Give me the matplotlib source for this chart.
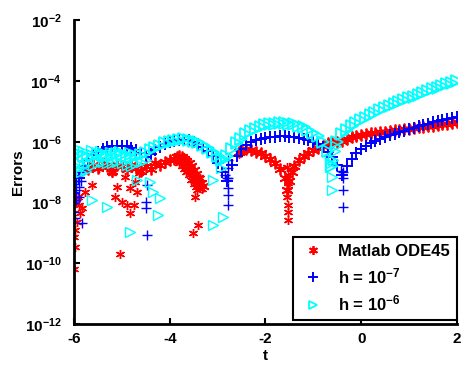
import matplotlib
matplotlib.use("Agg")
import matplotlib.pyplot as plt
import numpy as np

plt.rcParams['font.family'] = ['Liberation Sans', 'DejaVu Sans']
plt.rcParams['font.weight'] = 'bold'
plt.rcParams['mathtext.fontset'] = 'custom'
plt.rcParams['mathtext.rm'] = 'Liberation Sans:bold'
plt.rcParams['mathtext.bf'] = 'Liberation Sans:bold'
plt.rcParams['mathtext.it'] = 'Liberation Sans:bold'
plt.rcParams['mathtext.default'] = 'rm'

# common time grid for the smooth parts (t = -6 ... 2, step 0.1)
t_grid = np.round(np.linspace(-6, 2, 81), 2)

# log10 of error
cyan_main = [-6.45, -6.40, -6.45, -6.50, -6.45, -6.40, -6.42, -6.48, -6.45, -6.40,
             -6.42, -6.46, -6.50, -6.47, -6.42, -6.36, -6.28, -6.20, -6.12, -6.05,
             -6.00, -5.96, -5.93, -5.92, -5.93, -5.97, -6.02, -6.10, -6.20, -6.32,
             -6.48, -6.60, -6.45, -6.25, -6.05, -5.90, -5.75, -5.65, -5.57, -5.50,
             -5.45, -5.42, -5.40, -5.38, -5.38, -5.40, -5.42, -5.46, -5.52, -5.60,
             -5.70, -5.82, -6.00, -6.30, -6.80, -6.00, -5.75, -5.60, -5.48, -5.38,
             -5.28, -5.20, -5.12, -5.04, -4.96, -4.89, -4.82, -4.76, -4.69, -4.63,
             -4.57, -4.51, -4.45, -4.39, -4.33, -4.27, -4.21, -4.15, -4.10, -4.05,
             -4.00]
blue_main = [-7.70, -7.20, -6.80, -6.55, -6.42, -6.32, -6.24, -6.18, -6.14, -6.12,
             -6.12, -6.15, -6.20, -6.28, -6.38, -6.50, -6.40, -6.28, -6.18, -6.08,
             -6.02, -5.97, -5.94, -5.93, -5.95, -5.99, -6.06, -6.16, -6.30, -6.48,
             -6.70, -7.00, -7.30, -6.75, -6.45, -6.25, -6.10, -6.00, -5.95, -5.90,
             -5.87, -5.85, -5.83, -5.82, -5.82, -5.83, -5.85, -5.87, -5.90, -5.95,
             -6.00, -6.08, -6.18, -6.32, -6.50, -6.75, -7.10, -6.80, -6.55, -6.36,
             -6.22, -6.12, -6.03, -5.96, -5.90, -5.84, -5.78, -5.73, -5.68, -5.63,
             -5.58, -5.53, -5.49, -5.44, -5.40, -5.36, -5.32, -5.28, -5.24, -5.20,
             -5.17]

# cyan extra points (thick band at left, dips, stray markers)
cyan_x_t = [-6.0, -5.95, -5.9, -5.85, -5.8, -5.75, -5.7, -5.6, -5.5, -5.4, -5.3, -5.2,
            -5.1, -5.0, -4.9, -4.8, -4.7, -5.97, -5.92, -5.82, -5.65, -5.45, -5.25,
            -5.05, -4.85, -4.6, -4.5, -2.95, -2.85, -2.92, -0.65, -0.62, -0.58, -0.55,
            -0.52, -0.66, -0.61, -0.61, -5.62, -5.31, -4.83, -4.35, -4.2, -4.25,
            -4.41, -4.68, -2.89, -3.1, -3.1]
cyan_x_e = [-6.75, -6.90, -6.70, -7.00, -6.80, -6.95, -6.70, -6.75, -6.70, -6.65, -6.70,
            -6.70, -6.65, -6.70, -6.75, -6.80, -6.70, -6.30, -6.25, -6.30, -6.28, -6.30,
            -6.32, -6.30, -6.33, -6.65, -6.60, -6.55, -6.55, -6.85, -6.55, -6.70, -6.60,
            -6.30, -6.15, -6.82, -7.15, -7.58, -7.91, -8.13, -8.96, -7.64, -7.84, -8.40,
            -7.31, -7.25, -8.46, -8.73, -7.25]

blue_x_t = [-6.0, -6.0, -6.0, -6.0, -5.95, -5.95, -5.95, -5.9, -5.9, -5.9, -5.85, -5.85,
            -5.8, -5.97, -5.83, -4.48, -4.5, -4.5, -4.48, -2.85, -2.8, -2.78, -2.78,
            -2.78, -2.78, -2.78, -2.78, -0.42, -0.38, -0.37, -0.37, -0.37]
blue_x_e = [-7.40, -7.70, -8.00, -8.30, -7.30, -7.60, -7.90, -7.10, -7.50, -7.80, -7.00,
            -7.30, -6.90, -8.50, -8.66, -7.41, -7.97, -8.17, -9.06, -7.10, -7.20, -6.59,
            -6.86, -7.18, -7.51, -7.74, -8.07, -6.95, -7.00, -7.18, -7.58, -8.13]

red_t = [-5.7, -5.6, -5.5, -5.4, -5.3, -5.2, -5.1, -5.0, -4.9, -4.8, -4.7, -4.6, -4.5,
         -4.4, -4.3, -4.2, -4.1, -4.0,
         -3.9, -3.85, -3.8, -3.75, -3.7, -3.65, -3.6, -3.55, -3.5, -3.45, -3.4, -3.35,
         -3.3,
         -2.55, -2.5, -2.4, -2.3, -2.2, -2.1, -2.0, -1.9, -1.8, -1.7, -1.6, -1.55, -1.5,
         -1.45, -1.4, -1.3, -1.2, -1.1, -1.0, -0.9, -0.8, -0.7, -0.6, -0.5,
         -0.4, -0.3, -0.2, -0.1, 0.0, 0.1, 0.2, 0.3, 0.4, 0.5, 0.6, 0.7, 0.8, 0.9, 1.0,
         1.1, 1.2, 1.3, 1.4, 1.5, 1.6, 1.7, 1.8, 1.9, 2.0]
red_e = [-6.90, -6.75, -6.85, -6.70, -6.80, -6.95, -6.75, -6.80, -6.90, -6.75, -6.85,
         -6.95, -6.80, -6.90, -6.70, -6.75, -6.65, -6.60,
         -6.55, -6.50, -6.48, -6.50, -6.55, -6.62, -6.70, -6.80, -6.92, -7.05, -7.20,
         -7.35, -7.45,
         -6.32, -6.30, -6.25, -6.27, -6.32, -6.38, -6.46, -6.56, -6.70, -6.90, -7.20,
         -7.60, -7.30, -7.00, -6.80, -6.60, -6.47, -6.37, -6.28, -6.20, -6.12, -6.05,
         -6.02, -6.00,
         -5.97, -5.90, -5.85, -5.81, -5.78, -5.75, -5.72, -5.70, -5.68, -5.66, -5.64,
         -5.62, -5.60, -5.58, -5.56, -5.54, -5.52, -5.50, -5.48, -5.46, -5.44, -5.42,
         -5.40, -5.38, -5.36]

# red stray points (left scatter, cluster fill, dip column)
red_x_t = [-6.0, -5.98, -5.98, -5.94, -5.87, -5.83, -5.9, -5.77, -5.62, -6.0, -5.96,
           -5.92, -5.48, -5.35, -5.21, -5.1, -5.14, -5.0, -4.89, -4.83, -4.75, -5.04,
           -4.83, -4.73, -4.64, -4.94, -4.62, -4.68,
           -3.8, -3.75, -3.7, -3.65, -3.6, -3.55, -3.5, -3.45, -3.42, -3.7, -3.6, -3.55,
           -3.5, -3.4, -3.47, -3.41, -3.51, -3.82, -3.78, -3.72, -3.68, -3.62, -3.58,
           -3.52, -3.48, -3.38, -3.32, -3.36,
           -1.55, -1.53, -1.52, -1.53, -1.54, -1.52, -1.53, -1.52]
red_x_e = [-10.20, -9.45, -8.89, -8.63, -8.33, -8.17, -8.07, -7.64, -7.41, -9.15, -8.00,
           -7.80, -6.85, -6.75, -7.02, -7.48, -7.81, -7.97, -8.07, -8.33, -8.07, -9.68,
           -7.51, -7.31, -7.02, -7.15, -6.98, -7.64,
           -6.70, -6.80, -6.90, -7.00, -7.10, -7.25, -7.40, -7.50, -7.60, -6.75, -6.90,
           -7.00, -7.15, -7.40, -7.81, -8.73, -8.99, -6.60, -6.62, -6.68, -6.80, -6.85,
           -6.95, -7.10, -7.25, -7.30, -7.55, -7.20,
           -6.82, -7.08, -7.34, -7.58, -7.81, -8.07, -8.30, -8.56]

legend_labels = ['Matlab ODE45', r'h = 10$^{-7}$', r'h = 10$^{-6}$']
x_ticks = [-6, -4, -2, 0, 2]
y_exps = [-12, -10, -8, -6, -4, -2]

red = '#ff0000'
blue = '#0000ff'
cyan = '#00ffff'

fig = plt.figure(figsize=(4.61, 3.66), dpi=100)
ax = fig.add_axes([0.1605, 0.1148, 0.8305, 0.8292])

ast = (6, 2, 0)
ms_main = 8.5
ms = 6.5
# red
ax.plot(red_t, 10.0 ** np.array(red_e), ls='none', marker=ast, ms=ms_main,
        mec=red, mew=1.3, label=legend_labels[0])
ax.plot(red_x_t, 10.0 ** np.array(red_x_e), ls='none', marker=ast, ms=ms,
        mec=red, mew=1.0)
# blue
ax.plot(t_grid, 10.0 ** np.array(blue_main), ls='none', marker='+', ms=ms_main + 0.5,
        mec=blue, mew=1.4, label=legend_labels[1])
ax.plot(blue_x_t, 10.0 ** np.array(blue_x_e), ls='none', marker='+', ms=ms + 0.5,
        mec=blue, mew=1.0)
# cyan
ax.plot(t_grid, 10.0 ** np.array(cyan_main), ls='none', marker='>', ms=ms_main,
        mec=cyan, mfc='none', mew=1.3, label=legend_labels[2])
ax.plot(cyan_x_t, 10.0 ** np.array(cyan_x_e), ls='none', marker='>', ms=ms,
        mec=cyan, mfc='none', mew=1.0)

ax.set_yscale('log')
ax.set_xlim(-6, 2)
ax.set_ylim(1e-12, 1e-2)
ax.set_xticks(x_ticks)
ax.set_xticklabels([str(v) for v in x_ticks])
ax.set_yticks([10.0 ** e for e in y_exps])
ax.set_yticklabels([r'$10^{%d}$' % e for e in y_exps])
ax.yaxis.set_minor_locator(matplotlib.ticker.NullLocator())
ax.tick_params(direction='in', length=4, width=1.5, labelsize=11, pad=6)
ax.tick_params(axis='y', pad=9)

for side in ['top', 'right']:
    ax.spines[side].set_visible(False)
for side in ['left', 'bottom']:
    ax.spines[side].set_linewidth(2)

ax.set_xlabel('t', fontsize=11, fontweight='bold', labelpad=2)
ax.set_ylabel('Errors', fontsize=11, fontweight='bold', labelpad=0)

leg = ax.legend(loc='lower right', bbox_to_anchor=(1.0, 0.013), borderaxespad=0,
                fancybox=False, framealpha=1, edgecolor='black', fontsize=12,
                handletextpad=0.7, labelspacing=0.45, borderpad=0.4, handlelength=1.6,
                markerscale=0.75)
leg.get_frame().set_linewidth(1.5)

fig.savefig('out.png', dpi=100)
